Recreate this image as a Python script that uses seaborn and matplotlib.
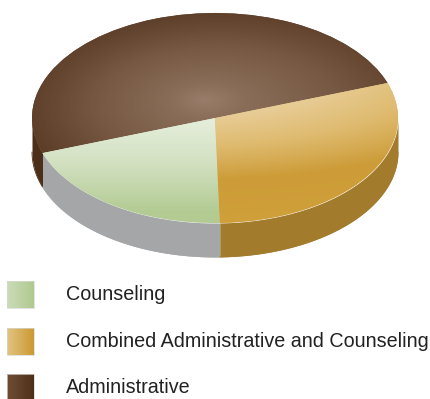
import numpy as np
import matplotlib
matplotlib.use("Agg")
import matplotlib.pyplot as plt
from matplotlib.colors import LinearSegmentedColormap
from matplotlib.patches import Rectangle
import seaborn as sns

# Shares of each position type, in percent
categories = ["Administrative", "Counseling", "Combined Administrative and Counseling"]
shares = [50, 20, 30]
legend_order = ["Counseling", "Combined Administrative and Counseling", "Administrative"]

base_colors = {"Administrative": "#6b4a32", "Counseling": "#cfe0bb",
               "Combined Administrative and Counseling": "#d9b25f"}
wall_colors = {"Administrative": "#4b2f19", "Counseling": "#a5a6a8",
               "Combined Administrative and Counseling": "#a27b2c"}
swatch_ramps = {"Administrative": ["#6f4d35", "#4e3018"],
                "Counseling": ["#cbdcb8", "#b0c98f"],
                "Combined Administrative and Counseling": ["#e2c382", "#cc9a32"]}

sns.set_theme(style="white")
plt.rcParams["font.family"] = ["Liberation Sans", "DejaVu Sans"]

W, H = 430, 399
CX, CY, RX, RY, DEPTH = 215, 118, 183, 105, 34
START = 19.5

fig = plt.figure(figsize=(W / 100, H / 100), dpi=100, facecolor="white")

# Pie axes: one data unit equals the ellipse radius along each direction
ax = fig.add_axes([0, 0, 1, 1])
wedges, _ = ax.pie(shares, startangle=START, radius=1,
                   colors=[base_colors[c] for c in categories],
                   wedgeprops={"linewidth": 0})
xlim = (-CX / RX, (W - CX) / RX)
ylim = ((CY - H) / RY, CY / RY)
depth = DEPTH / RY

# Extruded side wall below the front half of each slice
edges = START + np.cumsum([0] + shares) * 3.6
for cat, a0, a1 in zip(categories, edges[:-1], edges[1:]):
    for shift in (0, 360):
        lo, hi = max(a0, 180 + shift), min(a1, 360 + shift)
        if lo < hi:
            t = np.radians(np.linspace(lo, hi, 200))
            ax.fill_between(np.cos(t), np.sin(t), np.sin(t) - depth,
                            color=wall_colors[cat], linewidth=0, zorder=0.5)
            ax.plot(np.cos(t), np.sin(t) - depth, color=wall_colors[cat],
                    lw=0.6, zorder=0.5)


def shade(wedge, field, stops):
    cmap = LinearSegmentedColormap.from_list("shade", stops)
    im = ax.imshow(field, extent=(-1.02, 1.02, -1.02, 1.02), origin="lower",
                   cmap=cmap, vmin=0, vmax=1, aspect="auto",
                   interpolation="bilinear", zorder=2)
    im.set_clip_path(wedge)


gx, gy = np.meshgrid(np.linspace(-1.02, 1.02, 300), np.linspace(-1.02, 1.02, 300))

# Brown slice: soft highlight near the middle of the disc, darkest toward the upper left
dist = (np.hypot(gx + 0.06, (gy - 0.17) / 0.85) + 0.12 * (gy - gx)) * 0.88
brown_stops = [(0.0, "#9a7f6c"), (0.2, "#8a6d58"), (0.6, "#765843"), (1.0, "#5c3d27")]
shade(wedges[0], np.clip(dist, 0, 1), brown_stops)

# Green slice: fades downward
shade(wedges[1], np.clip((0.05 - gy) / 0.95, 0, 1), ["#e8f0df", "#d3e1c2", "#b3cb93"])

# Gold slice: glow spreading from above the centre, strongest tone along the lower rim
gold = np.clip((np.hypot(0.55 * (gx + 0.2), gy - 0.5) - 0.45) / 0.975, 0, 1)
shade(wedges[2], gold, ["#e9cf9c", "#dfbb70", "#cd9c38", "#cf9f3a"])

ax.set_aspect("auto")
ax.set_xlim(xlim)
ax.set_ylim(ylim)
ax.axis("off")

# Legend drawn in pixel coordinates so the swatches can carry a gradient
lax = fig.add_axes([0, 0, 1, 1], facecolor="none")
lax.set_xlim(0, W)
lax.set_ylim(H, 0)
lax.axis("off")
ramp = np.linspace(0, 1, 32).reshape(1, -1)
for i, label in enumerate(legend_order):
    top = 281 + i * 46.7
    cmap = LinearSegmentedColormap.from_list("swatch", swatch_ramps[label])
    lax.imshow(ramp, extent=(7, 34, top + 27, top), cmap=cmap, aspect="auto",
               interpolation="bilinear")
    lax.add_patch(Rectangle((7, top), 27, 27, fill=False, ec="#d8d8d8", lw=0.5))
    lax.text(66, top + 13.5, label, va="center", ha="left", fontsize=14.2,
             color="#222222")
lax.set_xlim(0, W)
lax.set_ylim(H, 0)

fig.savefig("out.png", dpi=100)
